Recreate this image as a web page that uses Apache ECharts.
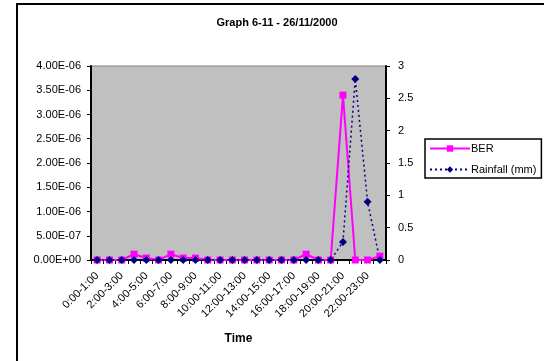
<!DOCTYPE html>
<html>
<head>
	<meta charset="utf-8">
	<title>Graph 6-11</title>
	<script src="https://cdn.jsdelivr.net/npm/echarts@6/dist/echarts.min.js"></script>
</head>
<body style="margin:0;background:#fff">
	<div id="main" style="width: 544px;height: 361px;"></div>
	<script>
		// categories (hourly)
		var hours = ['0:00-1:00','1:00-2:00','2:00-3:00','3:00-4:00','4:00-5:00','5:00-6:00',
			'6:00-7:00','7:00-8:00','8:00-9:00','9:00-10:00','10:00-11:00','11:00-12:00',
			'12:00-13:00','13:00-14:00','14:00-15:00','15:00-16:00','16:00-17:00','17:00-18:00',
			'18:00-19:00','19:00-20:00','20:00-21:00','21:00-22:00','22:00-23:00','23:00-24:00'];
		// BER (left axis)
		var ber = [0,0,0,1.2e-7,4e-8,0,1.2e-7,4e-8,4e-8,0,0,0,0,0,0,0,0,1.2e-7,0,0,3.4e-6,0,0,8e-8];
		// Rainfall in mm (right axis)
		var rain = [0,0,0,0,0,0,0,0,0,0,0,0,0,0,0,0,0,0,0,0,0.28,2.8,0.9,0];

		function sci(v) {
			var s = v.toExponential(2).split('e');
			var e = parseInt(s[1], 10);
			var sign = e < 0 ? '-' : '+';
			e = Math.abs(e);
			return s[0] + 'E' + sign + (e < 10 ? '0' + e : e);
		}

		var myCharts = echarts.init(document.getElementById('main'));
		var font = 'Arial, "Liberation Sans", sans-serif';
		var option = {
			animation: false,
			backgroundColor: '#fff',
			textStyle: { fontFamily: font },
			// 外框
			graphic: [{
				type: 'rect',
				shape: { x: 17, y: 4, width: 600, height: 420 },
				style: { fill: 'none', stroke: '#000', lineWidth: 2 }
			}],
			title: {
				text: 'Graph 6-11 - 26/11/2000',
				left: 272, top: 12, textAlign: 'center',
				textStyle: { fontSize: 11, fontWeight: 'bold', color: '#000', fontFamily: font }
			},
			legend: {
				orient: 'vertical',
				left: 425, top: 139,
				padding: [4, 5, 3, 4],
				itemGap: 10,
				itemWidth: 40, itemHeight: 8,
				borderColor: '#000', borderWidth: 1.5,
				textStyle: { fontSize: 11, color: '#000', fontFamily: font, padding: [0, 0, 0, -4] },
				data: ['BER', 'Rainfall (mm)']
			},
			grid: { left: 91, right: 158, top: 66, bottom: 101, show: true,
				backgroundColor: '#c0c0c0', borderColor: '#808080', borderWidth: 1 },
			xAxis: {
				type: 'category',
				data: hours,
				boundaryGap: true,
				name: 'Time',
				nameLocation: 'middle',
				nameGap: 73,
				nameTextStyle: { fontSize: 12, fontWeight: 'bold', color: '#000', fontFamily: font },
				axisLine: { lineStyle: { color: '#000', width: 2 } },
				axisTick: { show: true, length: 4, interval: 0, lineStyle: { color: '#000' } },
				axisLabel: { interval: 1, rotate: 45, fontSize: 11, color: '#000', margin: 14, fontFamily: font },
				splitLine: { show: false }
			},
			yAxis: [{
				type: 'value',
				min: 0, max: 4e-6, interval: 5e-7,
				axisLine: { show: true, lineStyle: { color: '#000', width: 2 } },
				axisTick: { show: true, length: 4, lineStyle: { color: '#000' } },
				axisLabel: { fontSize: 11, color: '#000', margin: 10, formatter: sci, fontFamily: font },
				splitLine: { show: false }
			}, {
				type: 'value',
				min: 0, max: 3, interval: 0.5,
				axisLine: { show: true, lineStyle: { color: '#000', width: 2 } },
				axisTick: { show: true, length: 4, lineStyle: { color: '#000' } },
				axisLabel: { fontSize: 11, color: '#000', margin: 12, fontFamily: font },
				splitLine: { show: false }
			}],
			series: [{
				name: 'BER',
				type: 'line',
				yAxisIndex: 0,
				data: ber,
				symbol: 'rect',
				symbolSize: 7,
				color: '#ff00ff',
				lineStyle: { color: '#ff00ff', width: 2 },
				itemStyle: { color: '#ff00ff' }
			}, {
				name: 'Rainfall (mm)',
				type: 'line',
				yAxisIndex: 1,
				data: rain,
				symbol: 'diamond',
				symbolSize: 8,
				color: '#000080',
				lineStyle: { color: '#000080', width: 1.5, type: [2, 3] },
				itemStyle: { color: '#000080' },
				z: 3
			}]
		};
		myCharts.setOption(option);
	</script>
</body>
</html>
